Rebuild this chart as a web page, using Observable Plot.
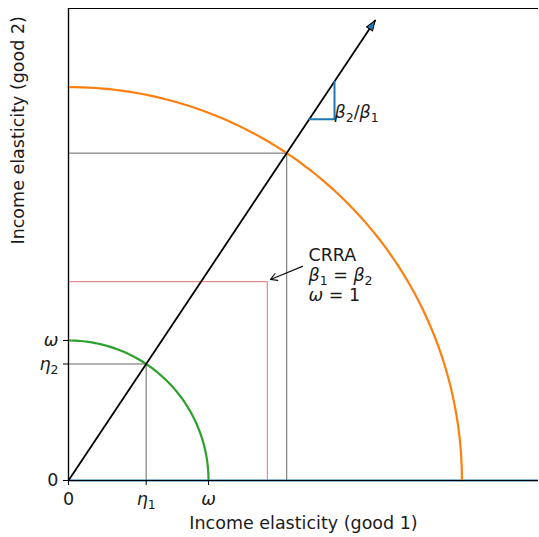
<!DOCTYPE html>
<html><head><meta charset="utf-8">
<script src="https://cdn.jsdelivr.net/npm/d3@7"></script>
<script src="https://cdn.jsdelivr.net/npm/@observablehq/plot@0.6"></script>
<style>body{margin:0;background:#fff}</style>
</head><body><div id="chart"></div>
<script>
// ---- values ----
const omega = 1;                 // radius of the small (green) circle
const slope = 1.5;               // β2/β1, direction of the expansion path
const radii = [1, 2.81];         // quarter-circle radii
const radiusColors = ["#2ca02c", "#ff7f0e"];
const crraCorner = 1.42;         // CRRA point (β1 = β2, ω = 1)
const arrowEndX = 2.19;          // end of the expansion arrow (x)
const triangleX = 1.72;          // slope triangle start (x)
const triangleW = 0.18;          // slope triangle run
const xTickLabels = ["0", "η_1", "ω"];
const yTickLabels = ["0", "η_2", "ω"];
const crraLines = ["CRRA", "β_1 = β_2", "ω = 1"];
const xLabel = "Income elasticity (good 1)";
const yLabel = "Income elasticity (good 2)";
const xMax = 3.357, yMax = 3.371;

// ---- derived geometry ----
const FS = 17.5;
const norm = Math.sqrt(1 + slope * slope);
const eta1 = omega / norm, eta2 = slope * omega / norm;
const xTicks = [0, eta1, omega];
const yTicks = [0, eta2, omega];
const arcs = radii.flatMap((r, k) => d3.range(0, 90.5, 1).map(a => ({
  k, x: r * Math.cos(a * Math.PI / 180), y: r * Math.sin(a * Math.PI / 180)
})));
const guides = [omega, radii[1]].flatMap((r, k) => {
  const gx = r / norm, gy = slope * r / norm;
  return [{k, x: 0, y: gy}, {k, x: gx, y: gy}, {k, x: gx, y: 0}];
});
const crraRect = [{x: 0, y: crraCorner}, {x: crraCorner, y: crraCorner}, {x: crraCorner, y: 0}];
const expansion = [{x: 0, y: 0}, {x: arrowEndX, y: slope * arrowEndX}];
const tri = [
  {x: triangleX, y: slope * triangleX},
  {x: triangleX + triangleW, y: slope * triangleX},
  {x: triangleX + triangleW, y: slope * (triangleX + triangleW)}
];
const blue = "#1f77b4";
const ink = "#1a1a1a";

const chart = Plot.plot({
  width: 539, height: 537,
  marginTop: 8, marginRight: 1, marginBottom: 57, marginLeft: 68,
  style: {fontFamily: "'DejaVu Sans', sans-serif", fontSize: FS + "px", background: "#fff", overflow: "visible"},
  x: {domain: [0, xMax]},
  y: {domain: [0, yMax]},
  marks: [
    Plot.ruleY([0], {stroke: blue, strokeWidth: 2}),
    Plot.ruleX([0], {stroke: blue, strokeWidth: 1.6}),
    Plot.line(guides, {x: "x", y: "y", z: "k", stroke: "#666", strokeWidth: 1}),
    Plot.line(crraRect, {x: "x", y: "y", stroke: "#e36f6f", strokeWidth: 1}),
    Plot.line(arcs, {x: "x", y: "y", z: "k", stroke: d => radiusColors[d.k], strokeWidth: 2.2}),
    Plot.line(expansion, {x: "x", y: "y", stroke: "black", strokeWidth: 1.8, className: "expansion"}),
    Plot.line(tri, {x: "x", y: "y", stroke: blue, strokeWidth: 2}),
    Plot.text(["β_2/β_1"], {x: triangleX + triangleW, y: slope * triangleX, text: d => d, textAnchor: "start", dx: 0, dy: -7, fill: ink, fontSize: FS}),
    ...crraLines.map((t, i) => Plot.text([t], {x: 1.714, y: 1.607, text: d => d, textAnchor: "start", dy: i * 20, fill: ink, fontSize: FS})),
    Plot.arrow([{x1: 1.671, y1: 1.529, x2: 1.443, y2: 1.436}], {x1: "x1", y1: "y1", x2: "x2", y2: "y2", stroke: "#111", strokeWidth: 1.2, headLength: 9}),
    // frame
    Plot.ruleX([0], {stroke: "black", strokeWidth: 1}),
    Plot.ruleY([0], {stroke: "black", strokeWidth: 1}),
    Plot.ruleY([yMax], {stroke: "black", strokeWidth: 1}),
    Plot.axisX({ticks: xTicks, tickFormat: (d, i) => xTickLabels[i], tickSize: 5, tickPadding: 7, label: null, fontSize: FS, fill: ink}),
    Plot.axisY({ticks: yTicks, tickFormat: (d, i) => yTickLabels[i], tickSize: 5, tickPadding: 5, label: null, fontSize: FS, fill: ink}),
    Plot.text([xLabel], {frameAnchor: "bottom", text: d => d, dy: 48, fill: ink, fontSize: FS}),
    Plot.text([yLabel], {frameAnchor: "left", text: d => d, dx: -50, rotate: -90, fill: ink, fontSize: FS})
  ]
});

// arrowhead marker for the expansion path
const svg = d3.select(chart);
const defs = svg.insert("defs", ":first-child");
defs.append("marker").attr("id", "ah").attr("viewBox", "-1 -5 12 10")
  .attr("markerUnits", "userSpaceOnUse").attr("markerWidth", 12).attr("markerHeight", 10)
  .attr("refX", 10).attr("refY", 0).attr("orient", "auto")
  .append("path").attr("d", "M0,-3.6L10,0L0,3.6Z").attr("fill", blue).attr("stroke", "black").attr("stroke-width", 1);
svg.selectAll(".expansion path").attr("marker-end", "url(#ah)");

// simple math text: italic Greek, subscripts after "_"
function mathify(el) {
  const s = el.textContent;
  if (!/[_ηβω]/.test(s)) return;
  const sel = d3.select(el);
  sel.text(null);
  let shift = 0;
  for (let i = 0; i < s.length; i++) {
    let c = s[i], sub = false;
    if (c === "_") { sub = true; c = s[++i]; }
    const t = sel.append("tspan").text(c);
    if (/[ηβω]/.test(c)) t.attr("font-style", "italic");
    if (sub) {
      t.attr("font-size", 12.5);
      if (shift === 0) { t.attr("dy", 4); shift = 4; }
    } else if (shift) { t.attr("dy", -shift); shift = 0; }
  }
}
svg.selectAll("text").each(function() { mathify(this); });

document.getElementById("chart").appendChild(chart);
</script>
</body></html>
